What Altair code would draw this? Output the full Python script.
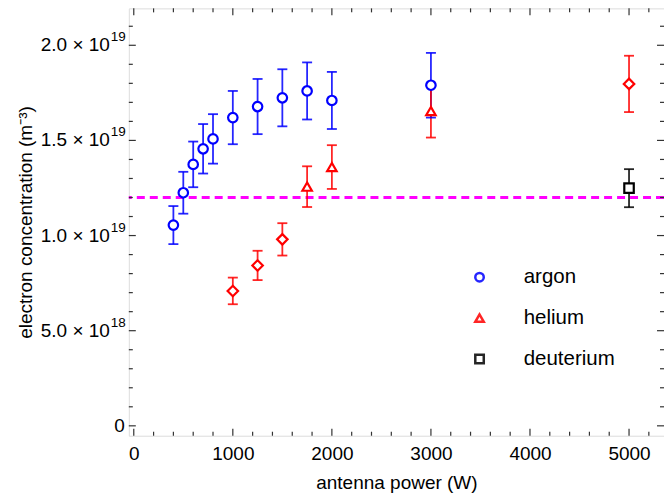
import altair as alt
import pandas as pd

# ---------------- data ----------------
argon_power = [400, 500, 600, 700, 800, 1000, 1250, 1500, 1750, 2000, 3000]
argon_n = [1.055e19, 1.225e19, 1.374e19, 1.456e19, 1.508e19, 1.620e19,
           1.678e19, 1.724e19, 1.760e19, 1.710e19, 1.790e19]
argon_err = [0.100e19, 0.110e19, 0.120e19, 0.130e19, 0.130e19, 0.140e19,
             0.145e19, 0.150e19, 0.150e19, 0.150e19, 0.170e19]

helium_tri_power = [1750, 2000, 3000]
helium_tri_n = [1.257e19, 1.360e19, 1.654e19]
helium_tri_err = [0.107e19, 0.115e19, 0.139e19]

helium_dia_power = [1000, 1250, 1500, 5000]
helium_dia_n = [0.709e19, 0.843e19, 0.980e19, 1.797e19]
helium_dia_err = [0.070e19, 0.077e19, 0.085e19, 0.148e19]

deut_power = [5000]
deut_n = [1.249e19]
deut_err = [0.100e19]

ref_level = [1.2e19]

gases = ["argon", "helium", "deuterium"]
gas_colors = ["#0000ff", "#ff0000", "#000000"]
gas_shapes = ["circle", "triangle-up", "square"]

x_major = [0, 1000, 2000, 3000, 4000, 5000]
x_minor = [200, 400, 600, 800, 1200, 1400, 1600, 1800, 2200, 2400, 2600, 2800,
           3200, 3400, 3600, 3800, 4200, 4400, 4600, 4800, 5200]
y_major = [0, 5e18, 1e19, 1.5e19, 2e19]
y_minor = [1e18, 2e18, 3e18, 4e18, 6e18, 7e18, 8e18, 9e18, 11e18, 12e18, 13e18,
           14e18, 16e18, 17e18, 18e18, 19e18, 21e18]
y_label_mant = ["5.0 × 10", "1.0 × 10", "1.5 × 10", "2.0 × 10"]
y_label_exp = ["18", "19", "19", "19"]
y_label_vals = [5e18, 1e19, 1.5e19, 2e19]
y_zero_label = ["0"]

# ---------------- tables ----------------
color_of = dict(zip(gases, gas_colors))
shape_of = dict(zip(gases, gas_shapes))

def rows(power, n, err, gas, kind):
    return [dict(power=p, n=v, lo=v - e, hi=v + e, gas=gas, kind=kind,
                 col=color_of[gas], shp=("diamond" if kind == "diamond" else shape_of[gas]))
            for p, v, e in zip(power, n, err)]

df = pd.DataFrame(
    rows(argon_power, argon_n, argon_err, "argon", "main")
    + rows(helium_tri_power, helium_tri_n, helium_tri_err, "helium", "main")
    + rows(helium_dia_power, helium_dia_n, helium_dia_err, "helium", "diamond")
    + rows(deut_power, deut_n, deut_err, "deuterium", "main")
)
df_main = df[df["kind"] == "main"]
df_dia = df[df["kind"] == "diamond"]
df_ylab = pd.DataFrame({"n": y_label_vals, "mant": y_label_mant, "exp": y_label_exp})
df_y0 = pd.DataFrame({"n": [0], "mant": y_zero_label})

W, H = 536, 428
FONT = "Liberation Sans"
FS = 19

xscale = alt.Scale(domain=[-50, 5353], nice=False, zero=False)
yscale = alt.Scale(domain=[-0.52e18, 21.94e18], nice=False, zero=False)
cscale = alt.Scale(domain=gases, range=gas_colors)
sscale = alt.Scale(domain=gases, range=gas_shapes)

x_axis = alt.Axis(values=x_major, format="d", tickSize=0, domain=False, grid=False,
                  labelFontSize=FS, labelPadding=9, titleFontSize=FS,
                  titleFontWeight="normal", titlePadding=10, labelColor="black",
                  titleColor="black", labelFont=FONT, titleFont=FONT)
y_axis = alt.Axis(values=y_major, labels=False, tickSize=0, domain=False,
                  grid=False, titleFontSize=FS, titleFontWeight="normal",
                  titlePadding=93, titleColor="black", titleFont=FONT)

YT = "electron concentration (m⁻³)"
X = alt.X("power:Q", scale=xscale, axis=x_axis, title="antenna power (W)")
Y = alt.Y("n:Q", scale=yscale, axis=y_axis, title=YT)
Ylo = alt.Y("lo:Q", scale=yscale, axis=y_axis, title=YT)
Yhi = alt.Y("hi:Q", scale=yscale, axis=y_axis, title=YT)

# reference dashed line
ref = alt.Chart(pd.DataFrame({"n": ref_level})).mark_rule(
    color="#ff00ff", strokeWidth=3, strokeDash=[8, 5]
).encode(y=Y)

# error bars (colours taken straight from the gas colour list, no legend)
err_color = alt.Color("col:N", scale=None)
err_rule = alt.Chart(df).mark_rule(strokeWidth=1.8, opacity=0.85).encode(
    x=X, y=Ylo, y2="hi:Q", color=err_color)
cap_lo = alt.Chart(df).mark_tick(orient="horizontal", size=10, thickness=1.8, opacity=0.85).encode(
    x=X, y=Ylo, color=err_color)
cap_hi = alt.Chart(df).mark_tick(orient="horizontal", size=10, thickness=1.8, opacity=0.85).encode(
    x=X, y=Yhi, color=err_color)

legend = alt.Legend(
    orient="none", legendX=341, legendY=259, title=None,
    labelFontSize=20.5, labelFont=FONT, labelColor="black",
    symbolSize=72, symbolStrokeWidth=2.5,
    rowPadding=20, labelOffset=34, padding=0,
)

# white backgrounds for hollow markers
pts_bg = alt.Chart(df).mark_point(filled=True, color="white", size=100, opacity=1).encode(
    x=X, y=Y, shape=alt.Shape("shp:N", scale=None))
pts_dia = alt.Chart(df_dia).mark_point(filled=False, size=110, strokeWidth=2.2,
                                       shape="diamond", color="#ff0000", opacity=1).encode(
    x=X, y=Y,
)
pts = alt.Chart(df_main).mark_point(filled=False, size=90, strokeWidth=2.2, opacity=1).encode(
    x=X, y=Y,
    color=alt.Color("gas:N", scale=cscale, legend=legend),
    shape=alt.Shape("gas:N", scale=sscale, legend=legend),
)

# y tick labels with superscript exponents
ylab_mant = alt.Chart(df_ylab).mark_text(align="right", baseline="middle", fontSize=FS,
                                         font=FONT, color="black").encode(
    y=Y, x=alt.value(-19), text="mant:N")
ylab_exp = alt.Chart(df_ylab).mark_text(align="left", baseline="middle", fontSize=13.5,
                                        font=FONT, color="black", dy=-8).encode(
    y=Y, x=alt.value(-18), text="exp:N")
ylab_zero = alt.Chart(df_y0).mark_text(align="right", baseline="middle", fontSize=FS,
                                       font=FONT, color="black").encode(
    y=Y, x=alt.value(-4), text="mant:N")

# inward frame ticks
TICK = "#333333"
def xticks(vals, length, side):
    d = pd.DataFrame({"power": vals})
    if side == "bottom":
        yy, yy2 = alt.value(H), alt.value(H - length)
    else:
        yy, yy2 = alt.value(0), alt.value(length)
    return alt.Chart(d).mark_rule(color=TICK, strokeWidth=1.2).encode(x=X, y=yy, y2=yy2)

def yticks(vals, length, side):
    d = pd.DataFrame({"n": vals})
    if side == "left":
        xx, xx2 = alt.value(0), alt.value(length)
    else:
        xx, xx2 = alt.value(W), alt.value(W - length)
    return alt.Chart(d).mark_rule(color=TICK, strokeWidth=1.2).encode(y=Y, x=xx, x2=xx2)

ticks = [
    xticks(x_major, 7, "bottom"), xticks(x_minor, 4, "bottom"),
    xticks(x_major, 7, "top"), xticks(x_minor, 4, "top"),
    yticks(y_major, 7, "left"), yticks(y_minor, 4, "left"),
    yticks(y_major, 7, "right"), yticks(y_minor, 4, "right"),
]

chart = alt.layer(
    ref, err_rule, cap_lo, cap_hi, pts_bg, pts_dia, pts,
    ylab_mant, ylab_exp, ylab_zero, *ticks
).properties(
    width=W, height=H,
    autosize=alt.AutoSizeParams(type="none"),
    padding={"left": 121, "top": 0, "right": 0, "bottom": 62},
).configure_view(
    stroke="#444444", strokeWidth=1.5
).configure(
    font=FONT, background="white"
)

chart.save("out.html", embed_options={"renderer": "svg", "actions": False})
